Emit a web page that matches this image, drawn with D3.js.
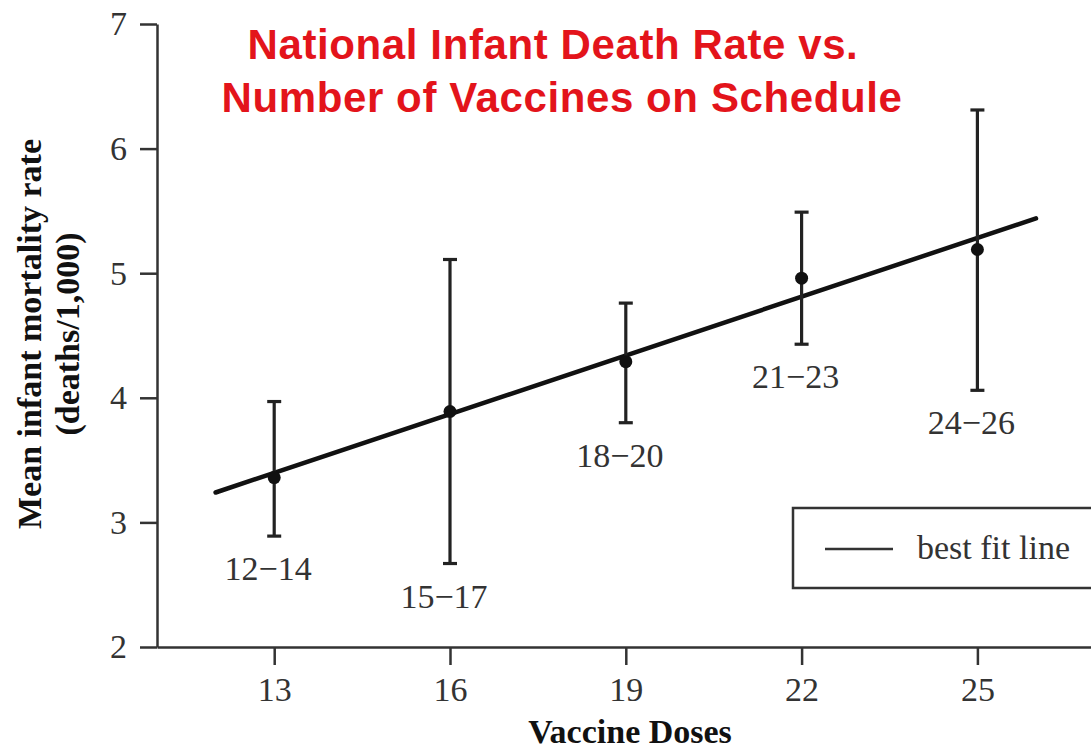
<!DOCTYPE html>
<html>
<head>
<meta charset="utf-8">
<script src="https://cdn.jsdelivr.net/npm/d3@7"></script>
<style>
    html, body { margin: 0; padding: 0; background: #fff; }
    svg { display: block; }
    .axis path, .axis line { stroke: #333; stroke-width: 2.5; }
    .axis text { font-family: 'Liberation Serif', serif; font-size: 34px; fill: #333; }
</style>
</head>
<body>
<div id="chart"></div>
<script>
const doses = [13, 16, 19, 22, 25];
const means = [3.36, 3.89, 4.29, 4.96, 5.19];
const upper = [3.97, 5.11, 4.76, 5.49, 6.31];
const lower = [2.89, 2.67, 3.80, 4.43, 4.06];
const ranges = ['12\u221214', '15\u221217', '18\u221220', '21\u221223', '24\u221226'];

const fitX = [12, 26];
const fitY = [3.24, 5.44];

const xTicks = [13, 16, 19, 22, 25];
const yTicks = [2, 3, 4, 5, 6, 7];

const W = 1091, H = 753;

const scaleX = d3.scaleLinear()
                 .domain([11, 27])
                 .range([157, 1094.6]);

const scaleY = d3.scaleLinear()
                 .domain([2, 7])
                 .range([647, 24]);

const svg = d3.select('#chart').append('svg')
              .attr('width', W)
              .attr('height', H);

svg.append('g')
    .attr('class', 'x axis')
    .attr('transform', 'translate(0, ' + scaleY(2) + ')')
    .call(d3.axisBottom(scaleX).tickValues(xTicks).tickFormat(d3.format('d'))
            .tickSize(18).tickSizeOuter(0).tickPadding(12));

svg.append('g')
    .attr('class', 'y axis')
    .attr('transform', 'translate(' + scaleX(11) + ', 0)')
    .call(d3.axisLeft(scaleY).tickValues(yTicks).tickFormat(d3.format('d'))
            .tickSize(17).tickSizeOuter(0).tickPadding(13));

// best fit line
svg.append('line')
    .attr('x1', scaleX(fitX[0]))
    .attr('y1', scaleY(fitY[0]))
    .attr('x2', scaleX(fitX[1]))
    .attr('y2', scaleY(fitY[1]))
    .style('stroke', '#111')
    .style('stroke-width', 4.5)
    .style('stroke-linecap', 'round');

const pts = doses.map((d, i) => ({ x: d, m: means[i], hi: upper[i], lo: lower[i], label: ranges[i] }));

const bars = svg.selectAll('g.err')
                .data(pts)
                .enter()
                .append('g')
                    .attr('class', 'err')
                    .style('stroke', '#222')
                    .style('stroke-width', 3.2);

bars.append('line')
    .attr('x1', d => scaleX(d.x))
    .attr('x2', d => scaleX(d.x))
    .attr('y1', d => scaleY(d.hi))
    .attr('y2', d => scaleY(d.lo));

bars.append('line')
    .attr('x1', d => scaleX(d.x) - 7)
    .attr('x2', d => scaleX(d.x) + 7)
    .attr('y1', d => scaleY(d.hi))
    .attr('y2', d => scaleY(d.hi));

bars.append('line')
    .attr('x1', d => scaleX(d.x) - 7)
    .attr('x2', d => scaleX(d.x) + 7)
    .attr('y1', d => scaleY(d.lo))
    .attr('y2', d => scaleY(d.lo));

svg.selectAll('circle')
    .data(pts)
    .enter()
    .append('circle')
        .attr('cx', d => scaleX(d.x))
        .attr('cy', d => scaleY(d.m))
        .attr('r', 6.5)
        .style('fill', '#111');

svg.selectAll('text.range')
    .data(pts)
    .enter()
    .append('text')
        .attr('class', 'range')
        .attr('x', d => scaleX(d.x) - 6)
        .attr('y', d => scaleY(d.lo) + 44)
        .attr('text-anchor', 'middle')
        .style('font-family', "'Liberation Serif', serif")
        .style('font-size', '34px')
        .style('fill', '#333')
        .text(d => d.label);

// legend
const legend = svg.append('g');
legend.append('rect')
    .attr('x', 793)
    .attr('y', 508)
    .attr('width', 320)
    .attr('height', 80)
    .style('fill', 'white')
    .style('stroke', '#333')
    .style('stroke-width', 2.5);
legend.append('line')
    .attr('x1', 825).attr('x2', 893)
    .attr('y1', 549).attr('y2', 549)
    .style('stroke', '#333')
    .style('stroke-width', 2.5);
legend.append('text')
    .attr('x', 917)
    .attr('y', 559)
    .style('font-family', "'Liberation Serif', serif")
    .style('font-size', '34px')
    .style('fill', '#333')
    .text('best fit line');

// axis titles
svg.append('text')
    .attr('x', 630)
    .attr('y', 743)
    .attr('text-anchor', 'middle')
    .style('font-family', "'Liberation Serif', serif")
    .style('font-weight', 'bold')
    .style('font-size', '34px')
    .style('fill', '#111')
    .text('Vaccine Doses');

const ytitle = svg.append('text')
    .attr('transform', 'translate(0, 334) rotate(-90)')
    .attr('text-anchor', 'middle')
    .style('font-family', "'Liberation Serif', serif")
    .style('font-weight', 'bold')
    .style('font-size', '34px')
    .style('fill', '#111');
ytitle.append('tspan').attr('x', 0).attr('y', 41).text('Mean infant mortality rate');
ytitle.append('tspan').attr('x', 0).attr('y', 79).text('(deaths/1,000)');

// title
const title = svg.append('text')
    .attr('text-anchor', 'middle')
    .style('font-family', "'Liberation Sans', Arial, sans-serif")
    .style('font-weight', 'bold')
    .style('font-size', '42px')
    .style('letter-spacing', '0.6px')
    .style('fill', '#e3141b');
title.append('tspan').attr('x', 553).attr('y', 59).text('National Infant Death Rate vs.');
title.append('tspan').attr('x', 562).attr('y', 112).text('Number of Vaccines on Schedule');
</script>
</body>
</html>
